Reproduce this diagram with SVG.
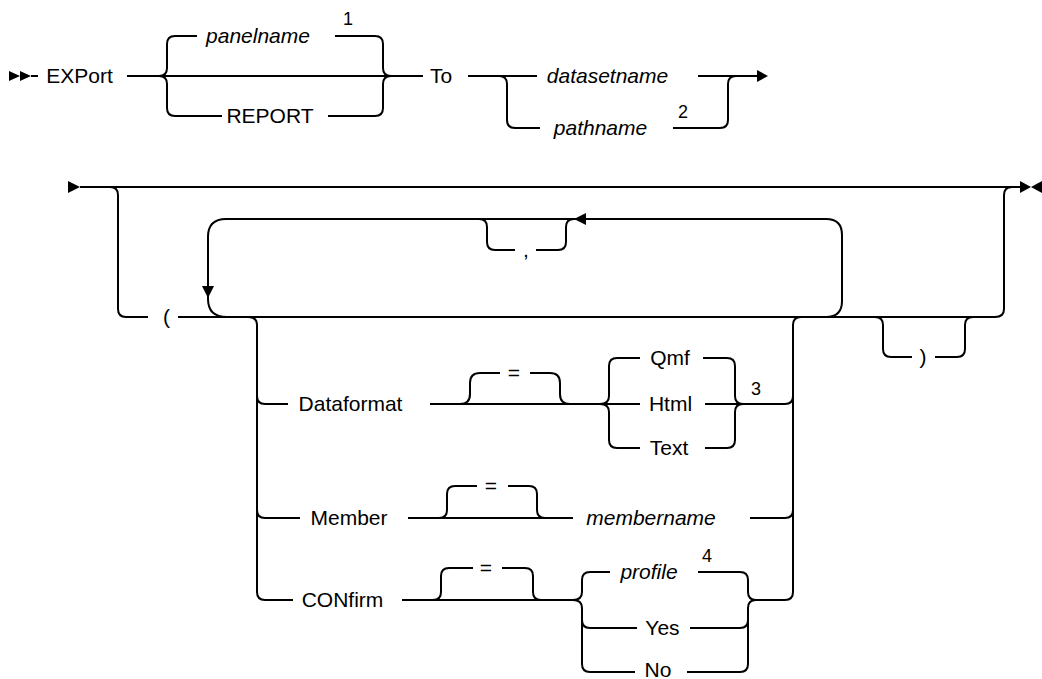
<svg xmlns="http://www.w3.org/2000/svg" width="1042" height="679" viewBox="0 0 1042 679">
<style>
.l{fill:none;stroke:#000;stroke-width:2}
.a{fill:#000;stroke:none}
text{font-family:"Liberation Sans",Arial,sans-serif;font-size:21px;fill:#000;text-anchor:middle}
.i{font-style:italic}
.n{font-size:18px}
</style>
<rect width="1042" height="679" fill="#fff"/>
<g id="connectors">
<polygon class="a" points="9,71 9,81 20,76"/>
<polygon class="a" points="20,71 20,81 31,76"/>
<path class="l" d="M31,76 L38,76"/>
<path class="l" d="M127,76 L423,76"/>
<path class="l" d="M159,76 Q167,76 167,68 L167,44 Q167,36 175,36 L197,36"/>
<path class="l" d="M335,36 L375,36 Q383,36 383,44 L383,68 Q383,76 391,76"/>
<path class="l" d="M159,76 Q167,76 167,84 L167,108 Q167,116 175,116 L222,116"/>
<path class="l" d="M328,116 L375,116 Q383,116 383,108 L383,84 Q383,76 391,76"/>
<path class="l" d="M468,76 L537,76"/>
<path class="l" d="M499,76 Q507,76 507,84 L507,120 Q507,128 515,128 L540,128"/>
<path class="l" d="M673,128 L720,128 Q728,128 728,120 L728,84 Q728,76 736,76"/>
<path class="l" d="M698,76 L758,76"/>
<polygon class="a" points="757,70 757,82 768,76"/>
<polygon class="a" points="68,181 68,193 80,187"/>
<path class="l" d="M80,187 L1021,187"/>
<path class="l" d="M110,187 Q118,187 118,195 L118,309 Q118,317 126,317 L148,317"/>
<path class="l" d="M178,317 L995,317 Q1004,317 1004,309 L1004,195 Q1004,187 1012,187"/>
<path class="l" d="M826,317 Q842,317 842,301 L842,235 Q842,219 826,219 L226,219 Q208,219 208,237 L208,299 Q208,317 227,317"/>
<polygon class="a" points="202,286 214,286 208,298"/>
<path class="l" d="M479,219 Q487,219 487,227 L487,242 Q487,250 495,250 L515,250"/>
<path class="l" d="M536,250 L558,250 Q566,250 566,242 L566,227 Q566,219 574,219"/>
<polygon class="a" points="574,219 586,213 586,225"/>
<path class="l" d="M248,317 Q257,317 257,325 L257,592 Q257,600 265,600 L293,600"/>
<path class="l" d="M257,396 Q257,404 265,404 L288,404"/>
<path class="l" d="M257,510 Q257,518 265,518 L300,518"/>
<path class="l" d="M753,600 L785,600 Q793,600 793,592 L793,325 Q793,317 801,317"/>
<path class="l" d="M743,404 L785,404 Q793,404 793,396"/>
<path class="l" d="M750,518 L785,518 Q793,518 793,510"/>
<path class="l" d="M430,404 L640,404"/>
<path class="l" d="M460,404 Q470,404 470,394 L470,383 Q470,373 480,373 L500,373"/>
<path class="l" d="M530,373 L550,373 Q560,373 560,383 L560,394 Q560,404 570,404"/>
<path class="l" d="M600,404 Q609,404 609,396 L609,366 Q609,358 617,358 L640,358"/>
<path class="l" d="M600,404 Q609,404 609,412 L609,440 Q609,448 617,448 L640,448"/>
<path class="l" d="M703,358 L727,358 Q735,358 735,366 L735,396 Q735,404 743,404"/>
<path class="l" d="M705,448 L727,448 Q735,448 735,440 L735,412 Q735,404 743,404"/>
<path class="l" d="M705,404 L743,404"/>
<path class="l" d="M408,518 L573,518"/>
<path class="l" d="M439,518 Q447,518 447,510 L447,494 Q447,486 455,486 L477,486"/>
<path class="l" d="M508,486 L529,486 Q537,486 537,494 L537,510 Q537,518 545,518"/>
<path class="l" d="M402,600 L573,600"/>
<path class="l" d="M433,600 Q441,600 441,592 L441,576 Q441,568 449,568 L473,568"/>
<path class="l" d="M502,568 L525,568 Q533,568 533,576 L533,592 Q533,600 541,600"/>
<path class="l" d="M573,600 Q582,600 582,592 L582,580 Q582,572 590,572 L610,572"/>
<path class="l" d="M573,600 Q582,600 582,608 L582,664 Q582,672 590,672 L635,672"/>
<path class="l" d="M582,620 Q582,628 590,628 L637,628"/>
<path class="l" d="M698,572 L740,572 Q748,572 748,580 L748,592 Q748,600 756,600"/>
<path class="l" d="M687,672 L740,672 Q748,672 748,664 L748,608 Q748,600 756,600"/>
<path class="l" d="M690,628 L740,628 Q748,628 748,620"/>
<path class="l" d="M875,317 Q883,317 883,325 L883,349 Q883,357 891,357 L912,357"/>
<path class="l" d="M935,357 L957,357 Q965,357 965,349 L965,325 Q965,317 973,317"/>
<polygon class="a" points="1020,181 1020,193 1031,187"/>
<polygon class="a" points="1042,181 1042,193 1031,187"/>
</g>
<g id="n-export"><text x="79.5" y="83">EXPort</text></g>
<g id="n-panelname"><text class="i" x="258" y="43">panelname</text><text class="n" x="348" y="25">1</text></g>
<g id="n-report"><text x="270" y="123">REPORT</text></g>
<g id="n-to"><text x="441" y="83">To</text></g>
<g id="n-datasetname"><text class="i" x="607.5" y="83">datasetname</text></g>
<g id="n-pathname"><text class="i" x="600.5" y="135">pathname</text><text class="n" x="683" y="118">2</text></g>
<g id="n-lparen"><text x="166.5" y="324">(</text></g>
<g id="n-comma"><text x="526" y="257">,</text></g>
<g id="n-rparen"><text x="923" y="364">)</text></g>
<g id="n-dataformat"><text x="350.5" y="411">Dataformat</text></g>
<g id="n-eq1"><text x="514" y="380">=</text></g>
<g id="n-qmf"><text x="670" y="365">Qmf</text></g>
<g id="n-html"><text x="670.5" y="411">Html</text></g>
<g id="n-text"><text x="669" y="455">Text</text></g>
<g id="n-note3"><text class="n" x="756" y="395">3</text></g>
<g id="n-member"><text x="349" y="525">Member</text></g>
<g id="n-eq2"><text x="491" y="493">=</text></g>
<g id="n-membername"><text class="i" x="651" y="525">membername</text></g>
<g id="n-confirm"><text x="342.5" y="607">CONfirm</text></g>
<g id="n-eq3"><text x="486" y="575">=</text></g>
<g id="n-profile"><text class="i" x="649" y="579">profile</text><text class="n" x="707" y="562">4</text></g>
<g id="n-yes"><text x="662.5" y="635">Yes</text></g>
<g id="n-no"><text x="658" y="677">No</text></g>
</svg>
